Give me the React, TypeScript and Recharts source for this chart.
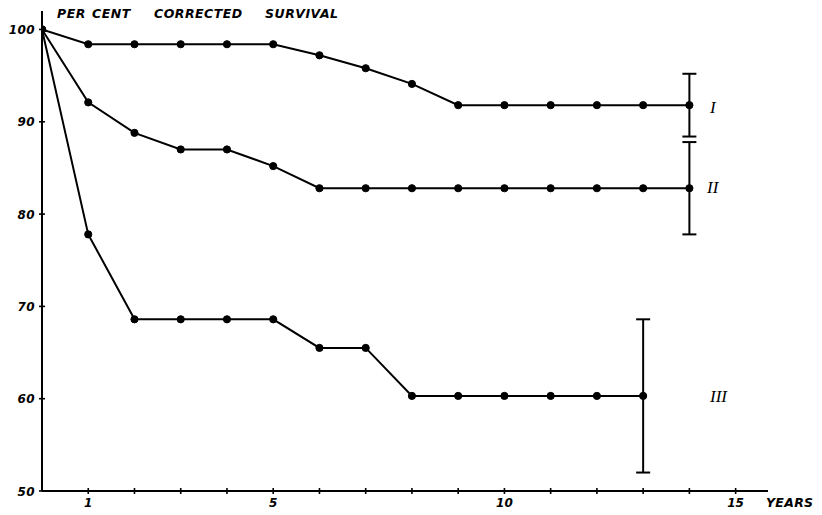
import React from 'react';
import { LineChart, Line, XAxis, YAxis, ErrorBar, Customized } from 'recharts';

// Years after treatment
const years = [0, 1, 2, 3, 4, 5, 6, 7, 8, 9, 10, 11, 12, 13, 14];

// Per cent corrected survival for each group
const groupI = [100, 98.4, 98.4, 98.4, 98.4, 98.4, 97.2, 95.8, 94.1, 91.8, 91.8, 91.8, 91.8, 91.8, 91.8];
const groupII = [100, 92.1, 88.8, 87.0, 87.0, 85.2, 82.8, 82.8, 82.8, 82.8, 82.8, 82.8, 82.8, 82.8, 82.8];
const groupIII = [100, 77.8, 68.6, 68.6, 68.6, 68.6, 65.5, 65.5, 60.3, 60.3, 60.3, 60.3, 60.3, 60.3];

// Error ranges at the last follow-up point of each group
const errorI = { year: 14, value: 3.4 };
const errorII = { year: 14, value: 5.0 };
const errorIII = { year: 13, value: 8.3 };

// Axis ticks
const xTicks = [1, 2, 3, 4, 5, 6, 7, 8, 9, 10, 11, 12, 13, 14, 15];
const xTickLabels = [1, 5, 10, 15];
const yTicks = [50, 60, 70, 80, 90, 100];

// Title words
const titleWords = ['PER', 'CENT', 'CORRECTED', 'SURVIVAL'];

const rows = years.map((year, i) => ({
  year,
  g1: groupI[i],
  g2: groupII[i],
  g3: groupIII[i],
  e1: year === errorI.year ? errorI.value : undefined,
  e2: year === errorII.year ? errorII.value : undefined,
  e3: year === errorIII.year ? errorIII.value : undefined,
}));

const INK = '#000';
const labelFont = {
  fontFamily: '"DejaVu Sans", sans-serif',
  fontWeight: 700,
  fontStyle: 'italic' as const,
  fill: INK,
};

const XTick = (props: any) => {
  const { x, y, payload } = props;
  const v = payload.value;
  return (
    <g>
      <line x1={x} x2={x} y1={y - 3} y2={y + 3} stroke={INK} strokeWidth={1.6} />
      {xTickLabels.includes(v) && (
        <text x={x} y={y + 16} textAnchor="middle" fontSize={12} {...labelFont}>
          {v}
        </text>
      )}
    </g>
  );
};

const YTick = (props: any) => {
  const { x, y, payload } = props;
  return (
    <g>
      <line x1={x - 3} x2={x + 3} y1={y} y2={y} stroke={INK} strokeWidth={1.6} />
      <text x={x - 7} y={y + 4.5} textAnchor="end" fontSize={12} letterSpacing={0.4} {...labelFont}>
        {payload.value}
      </text>
    </g>
  );
};

const titleX = [57, 92, 154, 265];

const Annotations = () => {
  const roman = {
    fontFamily: '"Liberation Serif", serif',
    fontStyle: 'italic' as const,
    fontSize: 17,
    fill: INK,
  };
  return (
    <g>
      {titleWords.map((w, i) => (
        <text key={w} x={titleX[i]} y={18} fontSize={12.5} letterSpacing={0.5} {...labelFont}>
          {w}
        </text>
      ))}
      <text x={766} y={507} fontSize={12.5} letterSpacing={0.3} {...labelFont}>
        YEARS
      </text>
      <text x={710} y={113} {...roman}>I</text>
      <text x={707} y={193} {...roman}>II</text>
      <text x={710} y={402} {...roman}>III</text>
    </g>
  );
};

const dotStyle = { r: 3.6, fill: INK, stroke: INK, strokeWidth: 1 };

export default function App() {
  return (
    <div style={{ position: 'absolute', left: 0, top: 0, background: '#fff' }}>
      <LineChart
        width={822}
        height={515}
        data={rows}
        margin={{ top: 11, right: 54, bottom: 0, left: 0 }}
      >
        <XAxis
          dataKey="year"
          type="number"
          domain={[0, 15.7]}
          ticks={xTicks}
          interval={0}
          height={24}
          tickSize={0}
          tickMargin={0}
          tickLine={false}
          tick={<XTick />}
          axisLine={{ stroke: INK, strokeWidth: 2 }}
          allowDataOverflow
        />
        <YAxis
          type="number"
          domain={[50, 102]}
          ticks={yTicks}
          interval={0}
          width={42}
          tickSize={0}
          tickMargin={0}
          tickLine={false}
          tick={<YTick />}
          axisLine={{ stroke: INK, strokeWidth: 2 }}
          allowDataOverflow
        />
        <Line dataKey="g1" stroke={INK} strokeWidth={2} dot={dotStyle} isAnimationActive={false}>
          <ErrorBar dataKey="e1" width={7} stroke={INK} strokeWidth={2} direction="y" />
        </Line>
        <Line dataKey="g2" stroke={INK} strokeWidth={2} dot={dotStyle} isAnimationActive={false}>
          <ErrorBar dataKey="e2" width={7} stroke={INK} strokeWidth={2} direction="y" />
        </Line>
        <Line dataKey="g3" stroke={INK} strokeWidth={2} dot={dotStyle} isAnimationActive={false}>
          <ErrorBar dataKey="e3" width={7} stroke={INK} strokeWidth={2} direction="y" />
        </Line>
        <Customized component={Annotations} />
      </LineChart>
    </div>
  );
}
